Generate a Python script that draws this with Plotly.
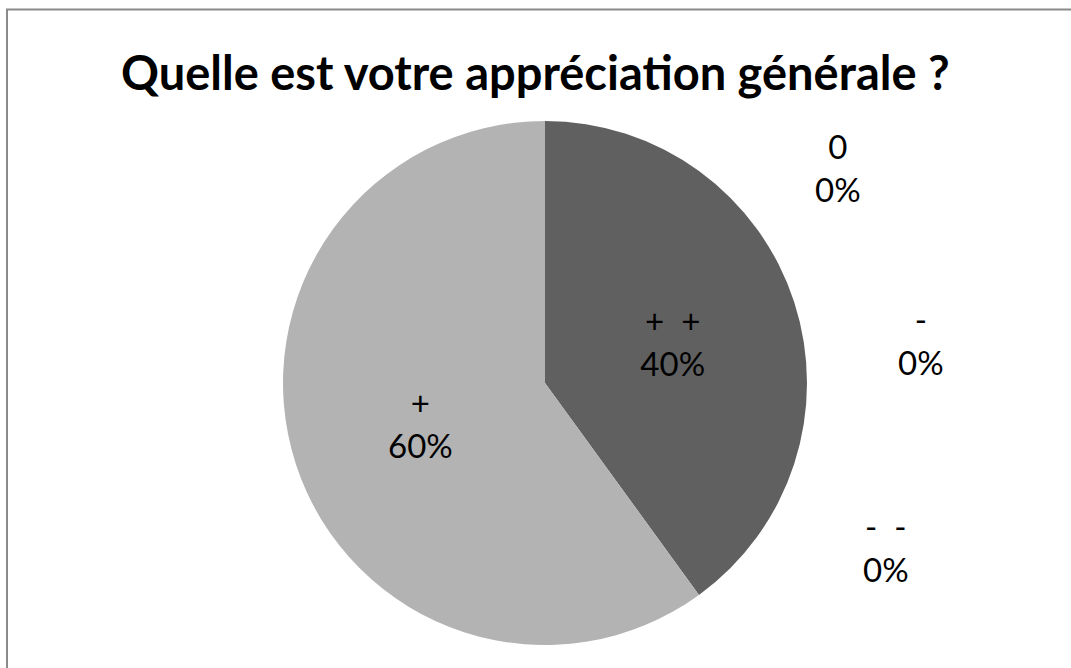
import plotly.graph_objects as go

title = "Quelle est votre appréciation générale ?"
labels = ["+\u00a0\u00a0+", "+", "0", "-", "-\u00a0\u00a0-"]
values = [40, 60, 0, 0, 0]
colors = ["#606060", "#b3b3b3", "#8a8a8a", "#d0d0d0", "#404040"]

# label anchor positions (pixels) for zero-value slices, by slice index
zero_label_pos = {2: (838, 167), 3: (921, 340), 4: (886, 547)}

W, H = 1071, 668
total = sum(values)
texts = [f"{l}<br>{round(v / total * 100)}%" if v > 0 else "" for l, v in zip(labels, values)]

cx, cy, r = 545, 383, 262
fig = go.Figure(go.Pie(
    labels=labels, values=values, sort=False, direction="clockwise", rotation=0,
    marker=dict(colors=colors, line=dict(width=0)),
    text=texts, textinfo="text", textposition="inside",
    insidetextorientation="horizontal",
    insidetextfont=dict(family="Lato", size=33, color="black"),
    domain=dict(x=[(cx - r) / W, (cx + r) / W], y=[1 - (cy + r) / H, 1 - (cy - r) / H]),
    showlegend=False, hoverinfo="label+percent",
))

annotations = []
for i, (l, v) in enumerate(zip(labels, values)):
    if v == 0:
        x, y = zero_label_pos[i]
        annotations.append(dict(
            x=x / W, y=1 - y / H, xref="paper", yref="paper",
            text=f"{l}<br>{round(v / total * 100)}%", showarrow=False,
            font=dict(family="Lato", size=33, color="black"),
            xanchor="center", yanchor="middle",
        ))
annotations.append(dict(
    x=535 / W, y=1 - 72 / H, xref="paper", yref="paper", text=f"<b>{title}</b>",
    showarrow=False, font=dict(family="Lato", size=47, color="black"),
    xanchor="center", yanchor="middle",
))

fig.update_layout(
    width=W, height=H, margin=dict(l=0, r=0, t=0, b=0),
    paper_bgcolor="white", plot_bgcolor="white",
    annotations=annotations,
    shapes=[dict(type="rect", xref="paper", yref="paper",
                 x0=7 / W, y0=-0.5, x1=1.5, y1=1 - 9.5 / H,
                 line=dict(color="#8a8a8a", width=2), fillcolor="rgba(0,0,0,0)")],
)
fig.write_html("out.html", config={"displayModeBar": False},
               post_script="document.body.style.margin='0';document.body.style.overflow='hidden';")
